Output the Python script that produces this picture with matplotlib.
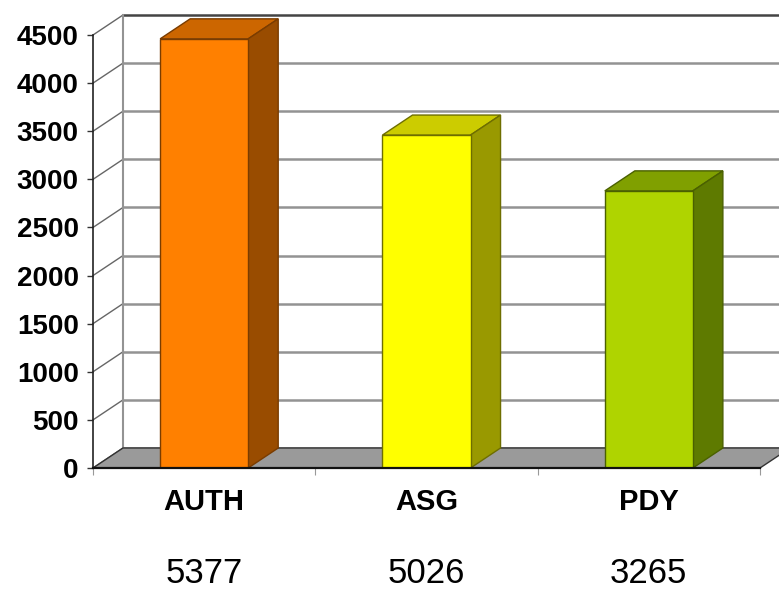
import matplotlib

matplotlib.use("Agg")
import matplotlib.pyplot as plt
from matplotlib.patches import Polygon

# data
categories = ["AUTH", "ASG", "PDY"]
values = [4460, 3460, 2880]
totals = ["5377", "5026", "3265"]
y_ticks = [0, 500, 1000, 1500, 2000, 2500, 3000, 3500, 4000, 4500]

front_colors = ["#ff8000", "#ffff00", "#afd400"]
top_colors = ["#cc6600", "#cccc00", "#80a000"]
side_colors = ["#994c00", "#999900", "#5e7a00"]
edge_colors = ["#7a3c00", "#6e6e00", "#4a6000"]

DX = 0.135  # depth offset in category units
DY = 208    # depth offset in value units
WIDTH = 0.396

plt.rcParams["font.family"] = ["Liberation Sans", "DejaVu Sans"]

fig = plt.figure(figsize=(7.79, 5.90), dpi=100)
ax = fig.add_axes([0.11938, 0.20678, 0.85623, 0.7339])
ax.set_xlim(0, 3)
ax.set_ylim(0, 4500)
ax.set_facecolor("none")
for side in ["top", "right"]:
    ax.spines[side].set_visible(False)
ax.spines["left"].set_color("#222222")
ax.spines["left"].set_linewidth(1.2)
ax.spines["bottom"].set_color("#111111")
ax.spines["bottom"].set_linewidth(1.6)
ax.spines["left"].set_zorder(6)
ax.spines["bottom"].set_zorder(6)

# back wall: gridlines and joining diagonals
for v in y_ticks:
    col = "#444444" if v == y_ticks[-1] else "#939393"
    ax.plot([DX, 3 + DX], [v + DY, v + DY], color=col, lw=1.8, zorder=1, clip_on=False)
    ax.plot([0, DX], [v, v + DY], color="#666666", lw=1.0, zorder=1, clip_on=False)
ax.plot([DX, DX], [DY, y_ticks[-1] + DY], color="#939393", lw=1.5, zorder=1, clip_on=False)

# floor
floor = Polygon([(0, 0), (3, 0), (3 + DX, DY), (DX, DY)], closed=True,
                facecolor="#9a9a9a", edgecolor="#333333", lw=1.0, zorder=2, clip_on=False)
ax.add_patch(floor)

# bars
xs = [i + 0.5 for i in range(len(categories))]
ax.bar(xs, values, WIDTH, color=front_colors, edgecolor=edge_colors, linewidth=1.0, zorder=4)
for x, v, tc, sc, ec in zip(xs, values, top_colors, side_colors, edge_colors):
    x0, x1 = x - WIDTH / 2, x + WIDTH / 2
    top = Polygon([(x0, v), (x1, v), (x1 + DX, v + DY), (x0 + DX, v + DY)], closed=True,
                  facecolor=tc, edgecolor=ec, lw=1.0, zorder=3, clip_on=False)
    side = Polygon([(x1, 0), (x1, v), (x1 + DX, v + DY), (x1 + DX, DY)], closed=True,
                   facecolor=sc, edgecolor=ec, lw=1.0, zorder=3, clip_on=False)
    ax.add_patch(top)
    ax.add_patch(side)

ax.set_yticks(y_ticks)
ax.set_yticklabels([str(v) for v in y_ticks], fontsize=20, fontweight="bold")
ax.tick_params(axis="y", length=4.3, width=1, pad=6.0, color="#333333")
ax.set_xticks([0, 1, 2, 3])
ax.set_xticklabels([])
ax.tick_params(axis="x", length=5, width=0.8, color="#999999")

trans = ax.get_xaxis_transform()
for x, name, total in zip(xs, categories, totals):
    ax.annotate(name, (x, 0), xycoords=trans, xytext=(0, -34 * 0.72), textcoords="offset points",
                ha="center", va="center", fontsize=21, fontweight="bold")
    ax.annotate(total, (x, 0), xycoords=trans, xytext=(0, -106 * 0.72), textcoords="offset points",
                ha="center", va="center", fontsize=25)

fig.savefig("out.png", dpi=100)
